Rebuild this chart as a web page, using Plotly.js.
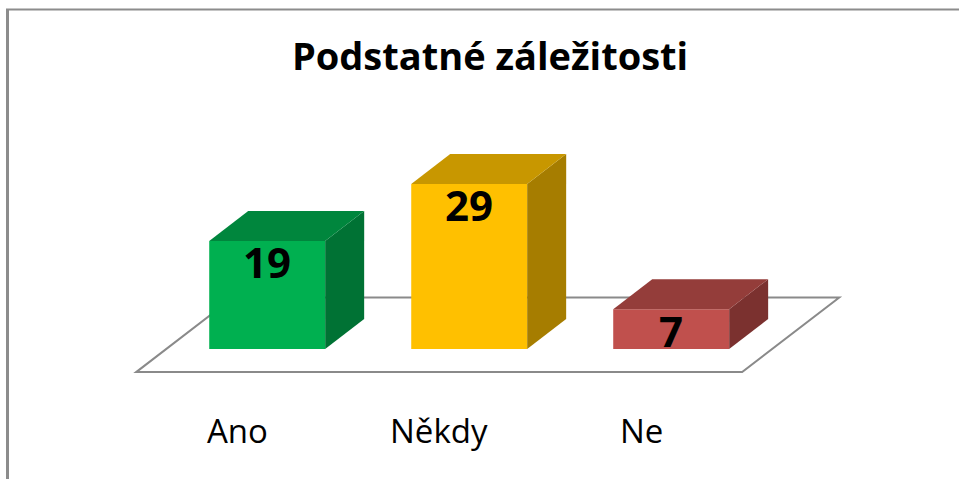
<!DOCTYPE html>
<html>
<head>
<meta charset="utf-8">
<script src="https://cdn.plot.ly/plotly-3.0.1.min.js"></script>
<style>html,body{margin:0;padding:0;background:#fff;}#chart{width:959px;height:479px;}</style>
</head>
<body>
<div id="chart"></div>
<script>
// ---- data ----
const categories = ['Ano', 'Někdy', 'Ne'];
const values = [19, 29, 7];
const titleText = 'Podstatné záležitosti';

// ---- styles ----
const frontColors = ['#00B050', '#FFC000', '#C0504D'];
const topColors = ['#00863D', '#C89700', '#943D3A'];
const sideColors = ['#007234', '#A67D00', '#7B312F'];
const FONT = '"Open Sans", sans-serif';

// geometry (axis units)
const barW = 0.574;          // bar width in category units
const depthDX = 0.193;       // depth shift in x (category units)
const depthDY = 5.27;        // depth shift in y (value units)
const floorFront = -0.77;    // floor front depth
const floorBack = 1.72;      // floor back depth

const xs = categories.map((c, i) => i);

const traces = [];
// front faces
traces.push({
  type: 'bar', x: xs, y: values, width: barW,
  marker: {color: frontColors, line: {width: 0}},
  hoverinfo: 'skip', showlegend: false
});
// top & side faces
xs.forEach((u, i) => {
  const v = values[i];
  const l = u - barW / 2, r = u + barW / 2;
  traces.push({
    type: 'scatter', mode: 'lines', fill: 'toself',
    x: [r, r, r + depthDX, r + depthDX, r],
    y: [0, v, v + depthDY, depthDY, 0],
    line: {width: 0, color: sideColors[i]}, fillcolor: sideColors[i],
    hoverinfo: 'skip', showlegend: false
  });
  traces.push({
    type: 'scatter', mode: 'lines', fill: 'toself',
    x: [l, r, r + depthDX, l + depthDX, l],
    y: [v, v, v + depthDY, v + depthDY, v],
    line: {width: 0, color: topColors[i]}, fillcolor: topColors[i],
    hoverinfo: 'skip', showlegend: false
  });
});

// floor
const n = categories.length;
const fx0 = -0.5, fx1 = n - 0.5;
const P = (x, d) => [x + d * depthDX, d * depthDY];
const fl = [P(fx0, floorFront), P(fx1, floorFront), P(fx1, floorBack), P(fx0, floorBack)];
const floorPath = 'M' + fl.map(p => p[0] + ',' + p[1]).join(' L') + ' Z';

const annotations = [];
xs.forEach((u, i) => {
  annotations.push({
    x: u, y: values[i], xref: 'x', yref: 'y', text: String(values[i]),
    showarrow: false, yanchor: 'middle', xanchor: 'center', yshift: -21,
    font: {family: FONT, size: 42, color: '#000', weight: 'bold'}
  });
  annotations.push({
    x: u + floorFront * depthDX, y: -14.4, xref: 'x', yref: 'y', text: categories[i],
    showarrow: false, yanchor: 'middle', xanchor: 'center',
    font: {family: FONT, size: 33, color: '#000'}
  });
});

const layout = {
  width: 959, height: 479,
  margin: {l: 0, r: 0, t: 0, b: 0},
  paper_bgcolor: '#fff', plot_bgcolor: '#fff',
  showlegend: false,
  title: {
    text: '<b>' + titleText + '</b>',
    x: 0.511, xanchor: 'center', y: 0.881, yanchor: 'middle', xref: 'paper', yref: 'paper',
    font: {family: FONT, size: 38, color: '#000'}
  },
  xaxis: {range: [-1.3228, 3.4248], visible: false, fixedrange: true},
  yaxis: {range: [-22.847, 61.336], visible: false, fixedrange: true},
  shapes: [
    {type: 'path', xref: 'x', yref: 'y', path: floorPath, layer: 'below',
     line: {color: '#8a8a8a', width: 2}, fillcolor: '#ffffff'},
    {type: 'line', xref: 'paper', yref: 'paper', x0: 7.5 / 959, x1: 7.5 / 959, y0: 0, y1: 1 - 9.5 / 479,
     line: {color: '#8c8c8c', width: 3}},
    {type: 'line', xref: 'paper', yref: 'paper', x0: 6 / 959, x1: 1, y0: 1 - 9.5 / 479, y1: 1 - 9.5 / 479,
     line: {color: '#8c8c8c', width: 2}}
  ],
  annotations: annotations
};

Plotly.newPlot('chart', traces, layout, {displayModeBar: false, staticPlot: true});
</script>
</body>
</html>
